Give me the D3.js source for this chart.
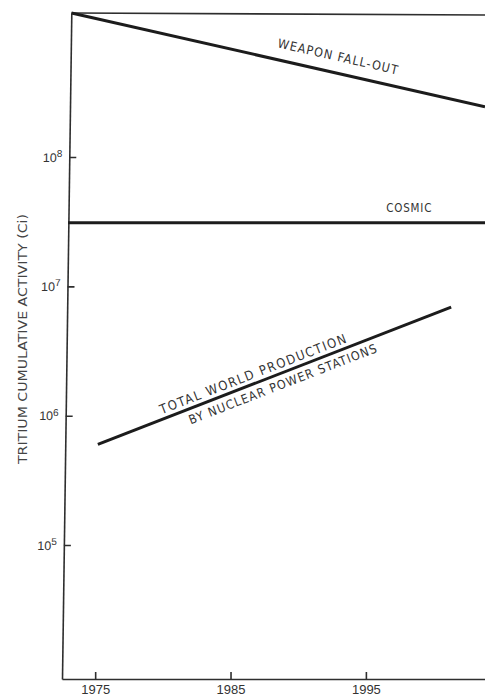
<!DOCTYPE html>
<html>
<head>
<meta charset="utf-8">
<script src="https://cdn.jsdelivr.net/npm/d3@7"></script>
<style>
  html, body { margin: 0; padding: 0; background: #fff; }
  svg { display: block; font-family: "Liberation Sans Narrow", "DejaVu Sans Condensed", "Liberation Sans", sans-serif; }
</style>
</head>
<body>
<div id="container"></div>
<script>
/* CONSTANTS AND GLOBALS */
const width = 485,
  height = 697,
  margin = { top: 13, bottom: 18, left: 62, right: 0 };

/* DATA */
const xDomain = [1972.55, 2003.8];
const yDomain = [9.2e3, 1.3e9];
const yearTicks = [1975, 1985, 1995];
const powerTicks = [5, 6, 7, 8];

const weaponYears = [1973.25, 2003.8];
const weaponValues = [1.3e9, 2.45e8];
const cosmicYears = [1973, 2004];
const cosmicValues = [3.1e7, 3.1e7];
const productionYears = [1975.2, 2001.3];
const productionValues = [6.0e5, 6.9e6];

const toPoints = (xs, ys) => xs.map((x, i) => ({ year: x, value: ys[i] }));
const weapon = toPoints(weaponYears, weaponValues);
const cosmic = toPoints(cosmicYears, cosmicValues);
const production = toPoints(productionYears, productionValues);

/* SCALES */
const xScale = d3.scaleLinear()
  .domain(xDomain)
  .range([margin.left, width - margin.right]);

const yScale = d3.scaleLog()
  .domain(yDomain)
  .range([height - margin.bottom, margin.top]);

/* HTML ELEMENTS */
const svg = d3.select("#container")
  .append("svg")
  .attr("width", width)
  .attr("height", height);

const ink = "#1c1c1c",
  axisInk = "#2e2e2e";

// the scanned left axis leans a little, so skew it
const lean = -9.5 / (height - margin.bottom);
svg.append("g")
  .attr("transform", `translate(${margin.left - lean * (height - margin.bottom)},0) skewX(${Math.atan(lean) * 180 / Math.PI})`)
  .call(d3.axisLeft(yScale)
    .tickValues(powerTicks.map(p => Math.pow(10, p)))
    .tickSizeInner(-7)
    .tickSizeOuter(0)
    .tickPadding(7)
    .tickFormat(""))
  .call(g => g.select(".domain").attr("stroke", axisInk).attr("stroke-width", 1.6))
  .call(g => g.selectAll(".tick line").attr("stroke", axisInk).attr("stroke-width", 1.6))
  .call(g => g.selectAll(".tick text")
    .attr("fill", "#333")
    .attr("font-size", 12.5)
    .each(function (d) {
      const t = d3.select(this);
      t.append("tspan").text("10");
      t.append("tspan")
        .attr("dy", "-0.45em")
        .attr("font-size", "0.8em")
        .text(Math.round(Math.log10(d)));
    }));

// x axis
svg.append("g")
  .attr("transform", `translate(0, ${height - margin.bottom})`)
  .call(d3.axisBottom(xScale)
    .tickValues(yearTicks)
    .tickSizeInner(-7)
    .tickSizeOuter(0)
    .tickPadding(6)
    .tickFormat(d3.format("d")))
  .call(g => g.select(".domain").attr("stroke", axisInk).attr("stroke-width", 1.6))
  .call(g => g.selectAll(".tick line").attr("stroke", axisInk).attr("stroke-width", 1.6))
  .call(g => g.selectAll(".tick text").attr("fill", "#333").attr("font-size", 13));

// top frame line
svg.append("line")
  .attr("x1", xScale(weaponYears[0]))
  .attr("x2", xScale(xDomain[1]))
  .attr("y1", yScale(yDomain[1]))
  .attr("y2", yScale(yDomain[1]) + 2)
  .attr("stroke", axisInk)
  .attr("stroke-width", 1.6);

// y title
svg.append("text")
  .attr("transform", `translate(23, ${(yScale(1e5) + yScale(1e8)) / 2 - 12}) rotate(-90)`)
  .attr("text-anchor", "middle")
  .attr("dy", "0.35em")
  .attr("font-size", 12.5)
  .attr("fill", "#444")
  .attr("textLength", 250)
  .attr("lengthAdjust", "spacingAndGlyphs")
  .text("TRITIUM CUMULATIVE ACTIVITY (Ci)");

/* LINES */
const line = d3.line()
  .x(d => xScale(d.year))
  .y(d => yScale(d.value));

svg.selectAll(".series")
  .data([weapon, cosmic, production])
  .join("path")
  .attr("class", "series")
  .attr("d", line)
  .attr("fill", "none")
  .attr("stroke", ink)
  .attr("stroke-width", 3);

/* LABELS along lines */
function labelAlong(series, year, offset, txt, size, spacing) {
  const a = series[0], b = series[series.length - 1];
  const x0 = xScale(a.year), y0 = yScale(a.value);
  const x1 = xScale(b.year), y1 = yScale(b.value);
  const px = xScale(year);
  const py = y0 + (y1 - y0) * (px - x0) / (x1 - x0);
  const angle = Math.atan2(y1 - y0, x1 - x0) * 180 / Math.PI;
  svg.append("text")
    .attr("transform", `translate(${px},${py}) rotate(${angle})`)
    .attr("y", offset)
    .attr("text-anchor", "middle")
    .attr("font-size", size)
    .attr("letter-spacing", spacing)
    .attr("fill", "#333")
    .text(txt);
}

labelAlong(weapon, 1992.7, -12, "WEAPON FALL-OUT", 12.5, 1.1);
labelAlong(cosmic, 1998.2, -11, "COSMIC", 11.5, 0.8);
labelAlong(production, 1986.95, -5, "TOTAL WORLD PRODUCTION", 13, 1.5);
labelAlong(production, 1988.6, 15, "BY NUCLEAR POWER STATIONS", 12.5, 1.1);
</script>
</body>
</html>
